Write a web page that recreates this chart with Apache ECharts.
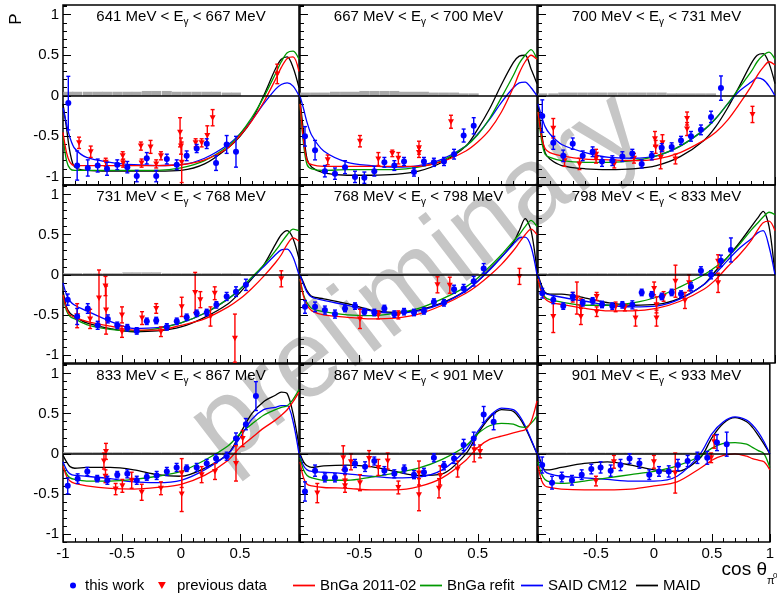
<!DOCTYPE html>
<html>
<head>
<meta charset="utf-8">
<script src="https://cdn.jsdelivr.net/npm/echarts@6/dist/echarts.min.js"></script>
<style>
  html, body { margin: 0; padding: 0; background: #fff; }
  #main { width: 777px; height: 593px; }
</style>
</head>
<body>
<div id="main"></div>
<script>
// photon energy bins, MeV
var energyBins = [[641,667],[667,700],[700,731],[731,768],[768,798],[798,833],[833,867],[867,901],[901,933]];

// cos(theta) grid the model curves are read on
var curveX = [-1,-0.97,-0.94,-0.9,-0.8,-0.6,-0.4,-0.2,0,0.2,0.4,0.5,0.6,0.7,0.8,0.85,0.9,0.95,1];

var bnga2011 = [
  [-0.45,-0.7,-0.82,-0.86,-0.86,-0.86,-0.86,-0.86,-0.85,-0.79,-0.64,-0.49,-0.31,-0.08,0.2,0.35,0.46,0.48,0.3],
  [-0.1,-0.55,-0.8,-0.85,-0.87,-0.87,-0.87,-0.87,-0.87,-0.81,-0.68,-0.57,-0.42,-0.2,0.1,0.28,0.42,0.5,0.45],
  [-0.2,-0.5,-0.65,-0.7,-0.74,-0.78,-0.79,-0.8,-0.78,-0.7,-0.55,-0.45,-0.3,-0.1,0.12,0.25,0.35,0.42,0.38],
  [-0.25,-0.42,-0.5,-0.53,-0.58,-0.64,-0.69,-0.69,-0.63,-0.55,-0.4,-0.3,-0.17,-0.02,0.15,0.25,0.38,0.46,0.42],
  [-0.05,-0.27,-0.38,-0.45,-0.5,-0.53,-0.55,-0.54,-0.49,-0.38,-0.23,-0.13,-0.01,0.13,0.3,0.4,0.5,0.57,0.5],
  [-0.05,-0.22,-0.3,-0.34,-0.37,-0.42,-0.45,-0.45,-0.42,-0.33,-0.18,-0.06,0.1,0.25,0.43,0.55,0.65,0.67,0.55],
  [-0.15,-0.28,-0.34,-0.37,-0.4,-0.43,-0.44,-0.42,-0.38,-0.27,-0.08,0.08,0.2,0.32,0.42,0.48,0.55,0.65,0.77],
  [-0.1,-0.3,-0.38,-0.4,-0.42,-0.43,-0.45,-0.45,-0.41,-0.3,-0.08,0.08,0.18,0.22,0.26,0.28,0.3,0.4,0.66],
  [-0.15,-0.33,-0.4,-0.42,-0.44,-0.45,-0.45,-0.44,-0.4,-0.35,-0.18,-0.08,-0.02,0.0,-0.03,-0.06,-0.08,-0.1,-0.2]
];
var bngaRefit = [
  [-0.5,-0.8,-0.9,-0.92,-0.92,-0.92,-0.92,-0.92,-0.89,-0.8,-0.62,-0.47,-0.27,-0.02,0.27,0.42,0.53,0.55,0.45],
  [-0.1,-0.6,-0.85,-0.9,-0.92,-0.91,-0.91,-0.91,-0.88,-0.8,-0.62,-0.48,-0.28,-0.02,0.25,0.4,0.5,0.57,0.45],
  [-0.2,-0.55,-0.72,-0.76,-0.8,-0.82,-0.82,-0.8,-0.74,-0.62,-0.42,-0.28,-0.1,0.1,0.3,0.42,0.5,0.54,0.45],
  [-0.25,-0.45,-0.52,-0.55,-0.62,-0.68,-0.7,-0.67,-0.6,-0.48,-0.3,-0.18,-0.03,0.12,0.3,0.4,0.5,0.57,0.55],
  [-0.05,-0.25,-0.35,-0.42,-0.46,-0.5,-0.51,-0.48,-0.42,-0.3,-0.15,-0.04,0.1,0.25,0.42,0.5,0.6,0.68,0.6],
  [-0.05,-0.2,-0.28,-0.31,-0.34,-0.38,-0.38,-0.35,-0.28,-0.15,0.0,0.1,0.22,0.38,0.56,0.64,0.72,0.78,0.75],
  [-0.15,-0.25,-0.3,-0.32,-0.34,-0.34,-0.32,-0.28,-0.22,-0.08,0.1,0.25,0.37,0.48,0.55,0.58,0.6,0.68,0.8],
  [-0.05,-0.2,-0.27,-0.3,-0.33,-0.33,-0.29,-0.24,-0.18,-0.07,0.1,0.25,0.35,0.38,0.37,0.34,0.33,0.38,0.47],
  [-0.1,-0.25,-0.32,-0.35,-0.37,-0.34,-0.3,-0.26,-0.22,-0.15,-0.03,0.07,0.13,0.14,0.12,0.08,0.04,0.0,-0.17]
];
var saidCM12 = [
  [-0.15,-0.35,-0.52,-0.65,-0.76,-0.82,-0.85,-0.86,-0.85,-0.77,-0.6,-0.47,-0.3,-0.1,0.08,0.14,0.16,0.12,0.0],
  [0.0,-0.16,-0.33,-0.49,-0.68,-0.82,-0.86,-0.88,-0.86,-0.78,-0.62,-0.47,-0.29,-0.08,0.1,0.16,0.17,0.1,0.0],
  [-0.1,-0.25,-0.38,-0.47,-0.6,-0.7,-0.76,-0.77,-0.74,-0.62,-0.42,-0.28,-0.1,0.06,0.17,0.22,0.2,0.12,0.0],
  [-0.1,-0.25,-0.33,-0.38,-0.45,-0.58,-0.67,-0.66,-0.6,-0.48,-0.3,-0.18,-0.04,0.1,0.25,0.31,0.32,0.22,0.0],
  [0.0,-0.12,-0.22,-0.28,-0.32,-0.38,-0.45,-0.48,-0.45,-0.36,-0.2,-0.08,0.06,0.22,0.38,0.46,0.47,0.35,0.0],
  [0.0,-0.15,-0.23,-0.25,-0.28,-0.33,-0.38,-0.4,-0.39,-0.3,-0.12,0.02,0.18,0.33,0.45,0.52,0.55,0.35,0.0],
  [-0.1,-0.2,-0.25,-0.27,-0.28,-0.31,-0.35,-0.36,-0.33,-0.2,0.0,0.2,0.43,0.55,0.58,0.6,0.6,0.4,0.0],
  [-0.02,-0.15,-0.2,-0.22,-0.23,-0.25,-0.28,-0.3,-0.29,-0.2,0.05,0.28,0.47,0.57,0.55,0.48,0.35,0.18,0.0],
  [0.0,-0.15,-0.22,-0.25,-0.28,-0.3,-0.32,-0.34,-0.34,-0.28,0.0,0.25,0.4,0.46,0.42,0.36,0.27,0.15,0.0]
];
var maid = [
  [-0.1,-0.4,-0.7,-0.88,-0.92,-0.93,-0.93,-0.93,-0.92,-0.84,-0.64,-0.5,-0.3,0.0,0.33,0.45,0.48,0.35,0.1],
  [-0.04,-0.45,-0.78,-0.88,-0.95,-0.98,-0.98,-0.97,-0.93,-0.82,-0.62,-0.41,-0.16,0.14,0.41,0.49,0.5,0.33,0.15],
  [-0.1,-0.45,-0.7,-0.78,-0.86,-0.9,-0.91,-0.9,-0.86,-0.75,-0.55,-0.38,-0.15,0.12,0.4,0.5,0.52,0.4,0.15],
  [-0.2,-0.4,-0.48,-0.52,-0.6,-0.67,-0.71,-0.7,-0.65,-0.53,-0.36,-0.22,-0.05,0.12,0.38,0.5,0.55,0.45,0.2],
  [0.0,-0.1,-0.2,-0.27,-0.3,-0.36,-0.44,-0.47,-0.44,-0.35,-0.2,-0.08,0.07,0.22,0.4,0.55,0.7,0.55,0.05],
  [0.0,-0.13,-0.22,-0.24,-0.24,-0.29,-0.35,-0.38,-0.37,-0.29,-0.12,0.05,0.22,0.4,0.6,0.7,0.79,0.6,0.0],
  [-0.02,-0.1,-0.16,-0.18,-0.17,-0.17,-0.2,-0.26,-0.28,-0.18,0.0,0.25,0.5,0.65,0.73,0.77,0.75,0.5,0.1],
  [0.0,-0.1,-0.15,-0.17,-0.15,-0.14,-0.16,-0.22,-0.27,-0.25,0.0,0.25,0.45,0.55,0.53,0.45,0.33,0.17,0.0],
  [0.0,-0.12,-0.2,-0.2,-0.17,-0.12,-0.1,-0.14,-0.2,-0.22,-0.05,0.2,0.38,0.45,0.4,0.33,0.23,0.12,0.0]
];

// [cos theta, P, error]
var thisWork = [
  [[-0.955,-0.09,0.33],[-0.88,-0.86,0.18],[-0.79,-0.89,0.1],[-0.706,-0.86,0.08],[-0.627,-0.9,0.08],[-0.54,-0.85,0.06],[-0.455,-0.88,0.07],[-0.375,-0.99,0.07],[-0.29,-0.77,0.07],[-0.21,-0.99,0.07],[-0.12,-0.78,0.06],[-0.036,-0.85,0.06],[0.048,-0.74,0.06],[0.133,-0.65,0.05],[0.218,-0.59,0.06],[0.297,-0.83,0.09],[0.387,-0.6,0.11],[0.466,-0.69,0.19]],
  [[-0.958,-0.5,0.12],[-0.873,-0.67,0.12],[-0.79,-0.93,0.07],[-0.705,-0.96,0.07],[-0.62,-0.88,0.08],[-0.536,-1.0,0.07],[-0.457,-1.01,0.07],[-0.373,-0.93,0.06],[-0.288,-0.82,0.06],[-0.204,-0.86,0.06],[-0.122,-0.81,0.05],[-0.038,-0.94,0.05],[0.046,-0.81,0.05],[0.13,-0.82,0.05],[0.215,-0.81,0.05],[0.3,-0.72,0.06],[0.381,-0.49,0.08],[0.466,-0.37,0.1]],
  [[-0.964,-0.25,0.2],[-0.871,-0.58,0.08],[-0.787,-0.74,0.07],[-0.707,-0.59,0.07],[-0.623,-0.74,0.06],[-0.539,-0.69,0.06],[-0.46,-0.81,0.06],[-0.373,-0.8,0.06],[-0.288,-0.75,0.06],[-0.204,-0.71,0.05],[-0.125,-0.84,0.05],[-0.04,-0.74,0.05],[0.044,-0.64,0.05],[0.128,-0.63,0.05],[0.207,-0.55,0.05],[0.291,-0.5,0.06],[0.375,-0.42,0.06],[0.46,-0.26,0.07],[0.544,0.095,0.15]],
  [[-0.96,-0.31,0.07],[-0.88,-0.52,0.1],[-0.79,-0.42,0.06],[-0.706,-0.63,0.05],[-0.62,-0.55,0.05],[-0.54,-0.63,0.04],[-0.455,-0.66,0.04],[-0.375,-0.7,0.04],[-0.29,-0.58,0.04],[-0.21,-0.57,0.04],[-0.12,-0.65,0.04],[-0.036,-0.58,0.04],[0.048,-0.53,0.04],[0.133,-0.48,0.04],[0.218,-0.47,0.04],[0.3,-0.375,0.04],[0.387,-0.27,0.05],[0.466,-0.21,0.06],[0.55,-0.125,0.07]],
  [[-0.958,-0.4,0.08],[-0.873,-0.4,0.06],[-0.79,-0.44,0.05],[-0.705,-0.49,0.05],[-0.62,-0.42,0.04],[-0.536,-0.39,0.04],[-0.457,-0.46,0.04],[-0.373,-0.47,0.04],[-0.288,-0.42,0.04],[-0.204,-0.49,0.04],[-0.122,-0.46,0.04],[-0.038,-0.47,0.04],[0.046,-0.45,0.04],[0.13,-0.34,0.04],[0.215,-0.35,0.04],[0.3,-0.18,0.05],[0.381,-0.17,0.05],[0.466,-0.08,0.06],[0.55,0.08,0.06]],
  [[-0.964,-0.23,0.06],[-0.871,-0.31,0.05],[-0.787,-0.39,0.04],[-0.707,-0.27,0.05],[-0.623,-0.35,0.04],[-0.539,-0.325,0.04],[-0.46,-0.37,0.04],[-0.373,-0.39,0.04],[-0.288,-0.375,0.04],[-0.204,-0.375,0.05],[-0.125,-0.22,0.04],[-0.04,-0.25,0.04],[0.044,-0.27,0.04],[0.128,-0.22,0.04],[0.207,-0.24,0.04],[0.291,-0.15,0.05],[0.375,0.05,0.05],[0.46,0.0,0.05],[0.544,0.175,0.07],[0.628,0.31,0.15]],
  [[-0.96,-0.4,0.1],[-0.876,-0.31,0.06],[-0.794,-0.22,0.05],[-0.71,-0.31,0.04],[-0.624,-0.33,0.05],[-0.54,-0.26,0.04],[-0.455,-0.25,0.05],[-0.375,-0.33,0.05],[-0.29,-0.29,0.04],[-0.206,-0.27,0.05],[-0.12,-0.22,0.05],[-0.037,-0.17,0.05],[0.048,-0.18,0.04],[0.133,-0.17,0.05],[0.218,-0.12,0.05],[0.297,-0.06,0.05],[0.387,-0.03,0.05],[0.466,0.19,0.07],[0.55,0.37,0.07],[0.635,0.72,0.18]],
  [[-0.958,-0.47,0.12],[-0.873,-0.21,0.07],[-0.79,-0.3,0.05],[-0.705,-0.3,0.05],[-0.62,-0.2,0.05],[-0.536,-0.12,0.05],[-0.451,-0.16,0.06],[-0.373,-0.09,0.05],[-0.288,-0.21,0.05],[-0.204,-0.25,0.05],[-0.12,-0.19,0.05],[-0.038,-0.26,0.05],[0.046,-0.23,0.05],[0.13,-0.05,0.05],[0.215,-0.15,0.05],[0.3,-0.06,0.06],[0.381,0.11,0.07],[0.466,0.19,0.08],[0.55,0.49,0.1],[0.634,0.4,0.1]],
  [[-0.964,-0.14,0.1],[-0.879,-0.36,0.08],[-0.795,-0.29,0.06],[-0.707,-0.33,0.06],[-0.623,-0.26,0.06],[-0.54,-0.19,0.06],[-0.46,-0.17,0.07],[-0.373,-0.21,0.07],[-0.288,-0.14,0.07],[-0.21,-0.06,0.06],[-0.125,-0.12,0.06],[-0.04,-0.26,0.06],[0.044,-0.22,0.06],[0.128,-0.22,0.07],[0.207,-0.14,0.07],[0.291,-0.09,0.07],[0.375,-0.05,0.07],[0.46,-0.05,0.08],[0.544,0.14,0.1],[0.628,0.12,0.15]]
];
var previousData = [
  [[-0.864,-0.58,0.07],[-0.765,-0.69,0.07],[-0.638,-0.82,0.05],[-0.494,-0.74,0.05],[-0.49,-0.83,0.05],[-0.34,-0.62,0.05],[-0.334,-0.83,0.05],[-0.258,-0.63,0.08],[-0.21,-0.84,0.05],[-0.17,-0.74,0.05],[-0.008,-0.45,0.18],[0.0,-0.62,0.1],[0.006,-0.82,0.25],[0.124,-0.58,0.05],[0.175,-0.58,0.05],[0.223,-0.49,0.12],[0.268,-0.27,0.1],[0.816,0.27,0.12]],
  [[-0.766,-0.79,0.06],[-0.494,-0.56,0.07],[-0.339,-0.78,0.08],[-0.221,-0.71,0.04],[-0.17,-0.77,0.07],[0.004,-0.64,0.08],[0.004,-0.7,0.06],[0.274,-0.32,0.08]],
  [[-0.871,-0.4,0.12],[-0.776,-0.8,0.07],[-0.65,-0.84,0.07],[-0.51,-0.72,0.06],[-0.51,-0.77,0.06],[-0.356,-0.84,0.05],[-0.19,-0.77,0.06],[-0.013,-0.53,0.09],[-0.007,-0.63,0.08],[0.035,-0.76,0.14],[0.05,-0.58,0.1],[0.16,-0.78,0.06],[0.258,-0.28,0.08],[0.258,-0.41,0.08],[0.81,-0.23,0.1]],
  [[-0.88,-0.51,0.15],[-0.77,-0.55,0.12],[-0.695,-0.29,0.35],[-0.64,-0.14,0.12],[-0.635,-0.44,0.3],[-0.5,-0.5,0.1],[-0.5,-0.71,0.07],[-0.33,-0.54,0.08],[-0.21,-0.42,0.06],[-0.17,-0.71,0.06],[0.006,-0.4,0.12],[0.12,-0.22,0.25],[0.164,-0.31,0.1],[0.25,-0.52,0.12],[0.286,-0.23,0.08],[0.457,-0.79,0.3],[0.85,-0.05,0.1]],
  [[-0.494,-0.55,0.12],[-0.339,-0.5,0.05],[-0.17,-0.5,0.05],[0.16,-0.125,0.1],[0.264,-0.13,0.1],[0.852,-0.02,0.1]],
  [[-0.871,-0.52,0.2],[-0.707,-0.28,0.06],[-0.672,-0.29,0.2],[-0.638,-0.4,0.1],[-0.638,-0.52,0.1],[-0.505,-0.27,0.05],[-0.505,-0.46,0.06],[-0.345,-0.4,0.06],[-0.267,-0.41,0.04],[-0.177,-0.54,0.1],[-0.02,-0.17,0.08],[0.0,-0.375,0.1],[0.0,-0.54,0.1],[0.06,-0.27,0.06],[0.16,-0.08,0.2],[0.24,-0.32,0.1],[0.275,-0.1,0.1],[0.52,-0.1,0.12],[0.52,0.17,0.08]],
  [[-0.653,-0.09,0.1],[-0.636,0.03,0.1],[-0.64,-0.28,0.08],[-0.554,-0.44,0.07],[-0.497,-0.4,0.08],[-0.418,-0.33,0.1],[-0.333,-0.48,0.1],[-0.17,-0.43,0.08],[0.006,-0.24,0.18],[0.006,-0.5,0.22],[0.175,-0.26,0.1],[0.288,-0.22,0.1],[0.466,-0.12,0.22],[0.523,0.19,0.1]],
  [[-0.854,-0.49,0.12],[-0.635,-0.05,0.15],[-0.62,-0.34,0.08],[-0.62,-0.4,0.08],[-0.57,-0.1,0.1],[-0.494,-0.36,0.1],[-0.417,-0.06,0.1],[-0.339,-0.17,0.1],[-0.26,-0.09,0.1],[-0.17,-0.42,0.08],[0.004,-0.24,0.15],[0.004,-0.51,0.2],[0.173,-0.43,0.12],[0.184,-0.27,0.12],[0.33,-0.19,0.1],[0.47,0.05,0.15],[0.52,0.03,0.08]],
  [[-0.5,-0.34,0.06],[-0.345,-0.1,0.08],[0.0,-0.1,0.08],[0.184,-0.24,0.25],[0.494,-0.05,0.06],[0.52,0.15,0.08]]
];
// systematic uncertainty per "this work" point
var systematics = [
  [0.05,0.05,0.05,0.05,0.05,0.05,0.05,0.05,0.06,0.06,0.06,0.05,0.05,0.05,0.05,0.05,0.04,0.04],
  [0.04,0.04,0.04,0.05,0.05,0.05,0.06,0.06,0.06,0.06,0.05,0.05,0.05,0.04,0.04,0.04,0.03,0.03],
  [0.03,0.03,0.04,0.04,0.04,0.04,0.04,0.04,0.04,0.04,0.04,0.04,0.04,0.03,0.03,0.03,0.03,0.03,0],
  [0.02,0.02,0.02,0.02,0.02,0.02,0.03,0.03,0.03,0.03,0.02,0.02,0.02,0.02,0.02,0.02,0.02,0.02,0],
  [0.02,0.02,0.02,0.02,0.02,0.02,0.02,0.02,0.02,0.02,0.02,0.02,0.02,0.02,0.02,0.02,0.02,0.02,0],
  [0.02,0.02,0.02,0.02,0.02,0.02,0.02,0.02,0.02,0.02,0.02,0.02,0.02,0.02,0.02,0.02,0.02,0.02,0,0],
  [0.02,0.02,0.02,0.02,0.02,0.02,0.02,0.02,0.02,0.02,0.02,0.02,0.02,0.02,0.02,0.02,0.02,0.02,0,0],
  [0.02,0.02,0.02,0.02,0.02,0.02,0.02,0.02,0.02,0.02,0.02,0.02,0.02,0.02,0.02,0.02,0.02,0.02,0,0],
  [0.015,0.015,0.015,0.015,0.015,0.015,0.015,0.015,0.015,0.015,0.015,0.015,0.015,0.015,0.015,0.015,0.015,0.015,0,0]
];

var FONT = 'Liberation Sans, Arial, Helvetica, sans-serif';
var colLeft = [63, 300, 538], colWidth = [236, 237, 237];
var rowTop = [5, 185, 364], rowHeight = [180, 178, 178];
var Y_MIN = -1.1, Y_MAX = 1.12;

var models = [
  { name: 'MAID', color: '#000000', values: maid },
  { name: 'SAID CM12', color: '#0000ff', values: saidCM12 },
  { name: 'BnGa refit', color: '#009900', values: bngaRefit },
  { name: 'BnGa 2011-02', color: '#ff0000', values: bnga2011 }
];

function errorBars(marker, color) {
  return function (params, api) {
    var x = api.value(0), y = api.value(1), e = api.value(2);
    var c = api.coord([x, y]), hi = api.coord([x, y + e]), lo = api.coord([x, y - e]);
    var st = { stroke: color, lineWidth: 1.4 };
    var kids = [
      { type: 'line', shape: { x1: c[0], y1: hi[1], x2: c[0], y2: lo[1] }, style: st },
      { type: 'line', shape: { x1: c[0] - 2, y1: hi[1], x2: c[0] + 2, y2: hi[1] }, style: st },
      { type: 'line', shape: { x1: c[0] - 2, y1: lo[1], x2: c[0] + 2, y2: lo[1] }, style: st }
    ];
    if (marker === 'circle') {
      kids.push({ type: 'circle', shape: { cx: c[0], cy: c[1], r: 3 }, style: { fill: color } });
    } else {
      kids.push({ type: 'polygon', shape: { points: [[c[0] - 3, c[1] - 2.5], [c[0] + 3, c[1] - 2.5], [c[0], c[1] + 3]] }, style: { fill: color } });
    }
    return { type: 'group', children: kids };
  };
}

function sysBand(params, api) {
  var x = api.value(0), h = api.value(1);
  var a = api.coord([x - 0.042, h]), b = api.coord([x + 0.042, 0]);
  return { type: 'rect', shape: { x: a[0], y: a[1], width: b[0] - a[0], height: b[1] - a[1] }, style: { fill: '#a8a8a8' } };
}

var grids = [], xAxes = [], yAxes = [], series = [], graphics = [];

for (var i = 0; i < 9; i++) {
  var r = Math.floor(i / 3), c = i % 3;
  grids.push({ left: colLeft[c], top: rowTop[r], width: colWidth[c], height: rowHeight[r],
               show: true, borderColor: '#000', borderWidth: 1.5, backgroundColor: 'transparent' });

  // minor ticks every 0.1
  xAxes.push({ gridIndex: i, type: 'value', min: -1, max: 1, interval: 0.1, position: 'bottom',
    axisLine: { show: false, onZero: false },
    axisTick: { inside: true, length: 4, lineStyle: { color: '#000', width: 1 } },
    axisLabel: { show: false }, splitLine: { show: false } });
  // major ticks + labels
  xAxes.push({ gridIndex: i, type: 'value', min: -1, max: 1, interval: 0.5, position: 'bottom',
    axisLine: { show: false, onZero: false },
    axisTick: { inside: true, length: 8, lineStyle: { color: '#000', width: 1 } },
    axisLabel: { show: r === 2, margin: 4, color: '#000', fontSize: 15, fontFamily: FONT,
      formatter: (function (col) {
        return function (v) {
          if (col !== 0 && v <= -1) return '';
          if (col !== 2 && v >= 1) return '';
          return String(v);
        };
      })(c) },
    splitLine: { show: false } });

  yAxes.push({ gridIndex: i, type: 'value', min: Y_MIN, max: Y_MAX, interval: 0.1, position: 'left',
    axisLine: { show: false, onZero: false },
    axisTick: { inside: true, length: 4, lineStyle: { color: '#000', width: 1 } },
    axisLabel: { show: false }, splitLine: { show: false } });
  yAxes.push({ gridIndex: i, type: 'value', min: Y_MIN, max: Y_MAX, position: 'left',
    axisLine: { show: false, onZero: false },
    axisTick: { inside: true, length: 8, customValues: [-1, -0.5, 0, 0.5, 1], lineStyle: { color: '#000', width: 1 } },
    axisLabel: { show: c === 0, margin: 4, color: '#000', fontSize: 15, fontFamily: FONT,
      customValues: [-1, -0.5, 0, 0.5, 1] },
    splitLine: { show: false } });

  var xi = 2 * i, yi = 2 * i;

  series.push({ type: 'custom', name: 'sys', xAxisIndex: xi, yAxisIndex: yi, clip: true, z: 1,
    renderItem: sysBand,
    data: thisWork[i].map(function (p, k) { return [p[0], systematics[i][k]]; }),
    markLine: { silent: true, symbol: 'none', label: { show: false },
      lineStyle: { color: '#000', type: 'solid', width: 1.5 }, data: [{ yAxis: 0 }] } });

  models.forEach(function (m) {
    series.push({ type: 'line', name: m.name, xAxisIndex: xi, yAxisIndex: yi, z: 3,
      color: m.color, showSymbol: false, smooth: 0.3, clip: true,
      lineStyle: { color: m.color, width: 1.3 },
      data: curveX.map(function (x, k) { return [x, m.values[i][k]]; }) });
  });

  series.push({ type: 'custom', name: 'previous data', xAxisIndex: xi, yAxisIndex: yi, clip: true, z: 4,
    itemStyle: { color: '#ff0000' }, renderItem: errorBars('triangle', '#ff0000'),
    encode: { x: 0, y: 1 }, data: previousData[i] });
  series.push({ type: 'custom', name: 'this work', xAxisIndex: xi, yAxisIndex: yi, clip: true, z: 5,
    itemStyle: { color: '#0000ff' }, renderItem: errorBars('circle', '#0000ff'),
    encode: { x: 0, y: 1 }, data: thisWork[i] });

  graphics.push({ type: 'text', x: colLeft[c] + colWidth[c] / 2, y: rowTop[r] + 12, z: 10,
    style: { text: '{t|' + energyBins[i][0] + ' MeV < E}{s|γ}{t| < ' + energyBins[i][1] + ' MeV}',
      align: 'center', textAlign: 'center', verticalAlign: 'middle', textVerticalAlign: 'middle',
      rich: { t: { fontSize: 15, fontFamily: FONT, fill: '#000', lineHeight: 20 },
              s: { fontSize: 10, fontFamily: FONT, fill: '#000', lineHeight: 8, verticalAlign: 'bottom' } } } });
}

// watermark
graphics.push({ type: 'text', x: 418, y: 280, rotation: 37.5 * Math.PI / 180, z: -10, silent: true,
  style: { text: 'preliminary', fontSize: 110, fontFamily: FONT, fill: '#c6c6c6',
    align: 'center', textAlign: 'center', verticalAlign: 'middle', textVerticalAlign: 'middle' } });
// axis titles
graphics.push({ type: 'text', x: 16, y: 19, rotation: Math.PI / 2,
  style: { text: 'P', fontSize: 17, fontFamily: FONT, fill: '#000',
    align: 'center', textAlign: 'center', verticalAlign: 'middle', textVerticalAlign: 'middle' } });
graphics.push({ type: 'text', x: 767, y: 570,
  style: { text: 'cos θ', fontSize: 19, fontFamily: FONT, fill: '#000',
    align: 'right', textAlign: 'right', verticalAlign: 'middle', textVerticalAlign: 'middle' } });
graphics.push({ type: 'text', x: 767, y: 581,
  style: { text: 'π', fontSize: 11, fontFamily: FONT, fill: '#000', align: 'left', textAlign: 'left', verticalAlign: 'middle', textVerticalAlign: 'middle' } });
graphics.push({ type: 'text', x: 773, y: 576,
  style: { text: '0', fontSize: 8, fontFamily: FONT, fill: '#000', align: 'left', textAlign: 'left', verticalAlign: 'middle', textVerticalAlign: 'middle' } });

var lineIcon = 'path://M0,0H20V1.6H0Z';
function legendAt(name, icon, left, w, h) {
  return { data: [{ name: name, icon: icon }], left: left, top: 578, padding: 0,
    itemWidth: w, itemHeight: h, selectedMode: false,
    textStyle: { fontSize: 15, fontFamily: FONT, color: '#000' } };
}

var chart = echarts.init(document.getElementById('main'), null, { renderer: 'canvas' });
chart.setOption({
  animation: false,
  backgroundColor: '#fff',
  grid: grids,
  xAxis: xAxes,
  yAxis: yAxes,
  series: series,
  graphic: { elements: graphics },
  legend: [
    legendAt('this work', 'circle', 70, 14, 6),
    legendAt('previous data', 'path://M0,0L10,0L5,9Z', 158, 20, 7),
    legendAt('BnGa 2011-02', lineIcon, 293, 22, 10),
    legendAt('BnGa refit', lineIcon, 420, 22, 10),
    legendAt('SAID CM12', lineIcon, 521, 22, 10),
    legendAt('MAID', lineIcon, 636, 22, 10)
  ]
});
</script>
</body>
</html>
